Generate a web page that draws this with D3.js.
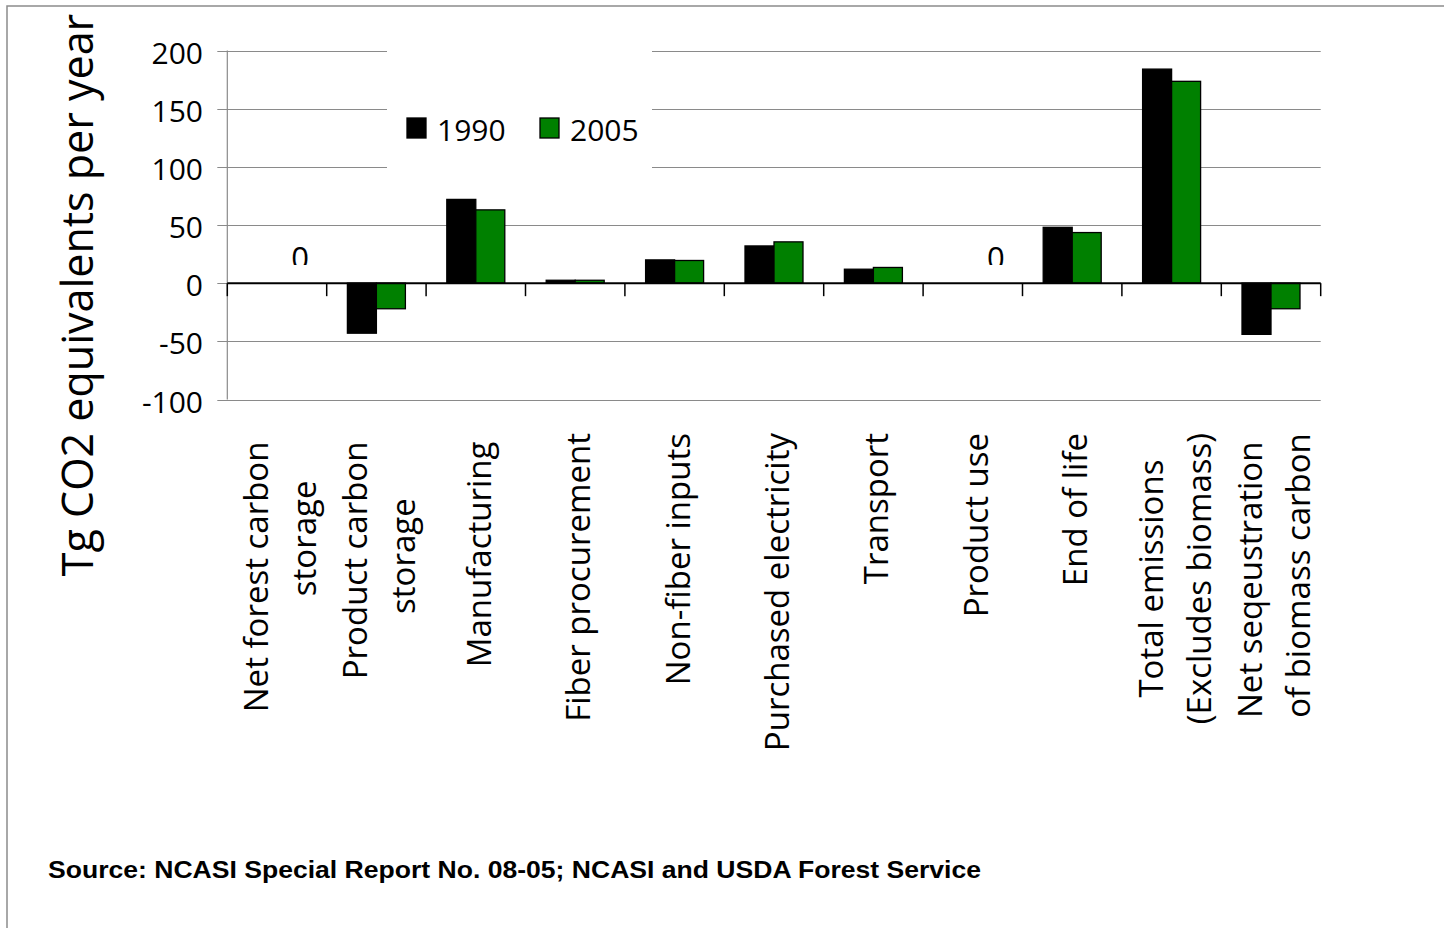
<!DOCTYPE html>
<html>
<head>
<meta charset="utf-8">
<script src="https://cdn.jsdelivr.net/npm/d3@7/dist/d3.min.js"></script>
<style>
  html, body { margin: 0; padding: 0; background: #fff; }
  svg { display: block; }
  .lbl { white-space: pre; }
</style>
</head>
<body>
<svg id="chart" width="1444" height="928"></svg>
<script>
// ---- data ----
const categories = [
  ["Net forest carbon ", "        storage"],
  ["Product carbon ", "storage"],
  ["Manufacturing "],
  ["Fiber procurement"],
  ["Non-fiber inputs"],
  ["Purchased electricity"],
  ["Transport"],
  ["Product use"],
  ["End of life"],
  ["Total emissions", "(Excludes biomass)"],
  ["Net seqeustration ", "of biomass carbon"]
];
const seriesNames = ["1990", "2005"];
const values1990 = [0, -43, 72, 2.5, 20, 32, 12, 0, 48, 184, -44];
const values2005 = [0, -22, 63, 2.5, 19.5, 35.5, 13.5, 0, 43.5, 173.5, -22];
const yTicks = [-100, -50, 0, 50, 100, 150, 200];
const yTitle = "Tg CO2 equivalents per year";
const sourceText = "Source: NCASI Special Report No. 08-05; NCASI and USDA Forest Service";
const colors = ["#000000", "#008000"];

(function () {
// ---- layout ----
const svg = d3.select("#chart");
const pLeft = 227.3, pRight = 1320.7, pTop = 50.5, pBottom = 399.5;
const FONT = "'Open Sans', sans-serif";

const idx = categories.map((d, i) => i);
const x = d3.scaleBand().domain(idx).range([pLeft, pRight]).padding(0);
const xs = d3.scaleBand().domain(seriesNames).range([0, x.bandwidth()])
  .paddingInner(0).paddingOuter(0.714);
const y = d3.scaleLinear().domain([-100, 200]).range([pBottom, pTop]);

// outer border
svg.append("rect").attr("x", 7).attr("y", 6).attr("width", 1460).attr("height", 960)
  .attr("fill", "none").attr("stroke", "#8c8c8c").attr("stroke-width", 1.5);

// gridlines + tick extensions
svg.append("g").selectAll("line").data(yTicks).join("line")
  .attr("x1", pLeft - 10).attr("x2", pRight)
  .attr("y1", d => Math.round(y(d)) + 0.5).attr("y2", d => Math.round(y(d)) + 0.5)
  .attr("stroke", "#8a8a8a").attr("stroke-width", 1.2);

// y axis line
svg.append("line").attr("x1", pLeft).attr("x2", pLeft).attr("y1", y(200)).attr("y2", y(-100))
  .attr("stroke", "#8a8a8a").attr("stroke-width", 1.2);

// y tick labels
svg.append("g").selectAll("text").data(yTicks).join("text")
  .attr("x", 203).attr("y", d => y(d) + 13)
  .attr("text-anchor", "end").attr("font-family", FONT).attr("font-size", 30)
  .attr("fill", "#000").text(d => d);

// legend white box
svg.append("rect").attr("x", 387).attr("y", 38).attr("width", 265).attr("height", 148).attr("fill", "#fff");

// bars
const data = [];
idx.forEach(i => {
  data.push({ i, s: seriesNames[0], v: values1990[i], c: colors[0] });
  data.push({ i, s: seriesNames[1], v: values2005[i], c: colors[1] });
});
svg.append("g").selectAll("rect").data(data.filter(d => d.v !== 0)).join("rect")
  .attr("x", d => x(d.i) + xs(d.s))
  .attr("width", xs.bandwidth())
  .attr("y", d => Math.min(y(d.v), y(0)))
  .attr("height", d => Math.abs(y(d.v) - y(0)))
  .attr("fill", d => d.c)
  .attr("stroke", "#000").attr("stroke-width", 1.3);

// zero line and ticks
svg.append("line").attr("x1", pLeft).attr("x2", pRight).attr("y1", y(0)).attr("y2", y(0))
  .attr("stroke", "#000").attr("stroke-width", 2);
const bounds = idx.map(i => x(i)).concat([pRight]);
svg.append("g").selectAll("line").data(bounds).join("line")
  .attr("x1", d => d).attr("x2", d => d).attr("y1", y(0)).attr("y2", y(0) + 13)
  .attr("stroke", "#000").attr("stroke-width", 1.5);

// "0" labels (clipped) for zero-valued categories
svg.append("clipPath").attr("id", "zclip").append("rect")
  .attr("x", 0).attr("y", 0).attr("width", 1444).attr("height", 265);
svg.append("g").attr("clip-path", "url(#zclip)").selectAll("text")
  .data(idx.filter(i => values1990[i] === 0 && values2005[i] === 0)).join("text")
  .attr("x", i => x(i) + x.bandwidth() / 2 + 23).attr("y", 269)
  .attr("text-anchor", "middle").attr("font-family", FONT).attr("font-size", 31)
  .text(i => values2005[i]);

// category labels
const labTop = 433, lineGap = 48;
idx.forEach(i => {
  const lines = categories[i];
  const cx = x(i) + x.bandwidth() / 2;
  const g = svg.append("g");
  const texts = lines.map((t, j) => g.append("text")
    .attr("class", "lbl").attr("xml:space", "preserve")
    .attr("font-family", FONT).attr("font-size", 33).attr("fill", "#000")
    .attr("text-anchor", "middle").text(t));
  const w = d3.max(texts, t => t.node().getComputedTextLength());
  const cy = labTop + w / 2;
  texts.forEach((t, j) => {
    const bx = cx + 15 + (j - (lines.length - 1) / 2) * lineGap;
    t.attr("transform", `translate(${bx},${cy}) rotate(-90)`);
  });
});

// y axis title
svg.append("text").attr("transform", "translate(93,295) rotate(-90)")
  .attr("text-anchor", "middle").attr("font-family", FONT).attr("font-size", 43)
  .attr("fill", "#000").text(yTitle);

// legend
const legX = [407, 540];
seriesNames.forEach((s, k) => {
  svg.append("rect").attr("x", legX[k]).attr("y", 118).attr("width", 19).attr("height", 20)
    .attr("fill", colors[k]).attr("stroke", "#000").attr("stroke-width", 1.3);
  svg.append("text").attr("x", legX[k] + 30).attr("y", 141)
    .attr("font-family", FONT).attr("font-size", 30).attr("fill", "#000").text(s);
});

// source
svg.append("text").attr("x", 48).attr("y", 878)
  .attr("font-family", "'Liberation Sans', Arial, sans-serif").attr("font-weight", "bold")
  .attr("font-size", 24).attr("fill", "#000")
  .attr("textLength", 933).attr("lengthAdjust", "spacingAndGlyphs")
  .text(sourceText);
})();
</script>
</body>
</html>
